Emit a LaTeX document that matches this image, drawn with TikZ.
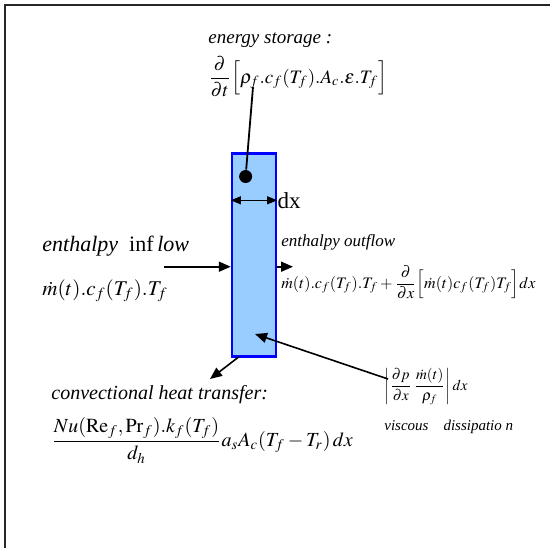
\documentclass[tikz,border=0pt]{standalone}
\usepackage{amsmath}
\usepackage{mathptmx}
\usepackage{fontspec}
\setmainfont{Liberation Serif}
\usetikzlibrary{arrows.meta,positioning}
\definecolor{cellblue}{RGB}{153,204,255}

\begin{document}
\begin{tikzpicture}[x=0.5pt,y=-0.5pt,
cell/.style={
  draw=blue,
  fill=cellblue,
  line width=1.2pt,
  minimum width=22pt,
  minimum height=101.5pt,
  inner sep=0pt},
flow/.style={-{Triangle[length=6pt,width=5pt]},line width=0.8pt},
term/.style={anchor=base west,inner sep=0pt},
mydot/.style={circle,fill=black,inner sep=2.3pt}
]
\useasboundingbox (0,0) rectangle (550,547);
\draw[line width=1pt,black!85] (5,5) rectangle (570,570);
% the control volume
\node[cell] (cv) at (254,255) {};
\node[mydot] (mass) at (245.6,176.5) {};
\draw[{Triangle[length=5pt,width=4pt]}-{Triangle[length=5pt,width=4pt]},line width=0.5pt]
  ([yshift=-24pt]cv.north west) -- ([yshift=-24pt]cv.north east)
  node[right=0pt,inner sep=0pt,font=\fontsize{11.5}{12}\selectfont] (dxLbl) {dx};
% energy storage
\node[term,font=\itshape\fontsize{9.5}{12}\selectfont] (storeLbl) at (208,43) {energy storage :};
\node[term,font=\fontsize{9.5}{12}\selectfont] (storeEq) at (208,83)
  {$\displaystyle\frac{\partial}{\partial t}\Big[\rho_f.c_f(T_f).A_c.\varepsilon.T_f\Big]$};
\coordinate (storeTip) at (253,87);
\draw[line width=0.9pt] (mass) -- (storeTip);
% enthalpy inflow
\node[term,font=\fontsize{11}{13}\selectfont] (inLbl) at (42,251) {\textit{enthalpy}\ \ inf\,\textit{low}};
\node[term,font=\fontsize{10.5}{13}\selectfont] (inEq) at (42,295) {$\dot m(t).c_f(T_f).T_f$};
\coordinate (inTail) at (164,266.7);
\draw[flow] (inTail) -- (inTail -| cv.west);
% enthalpy outflow
\node[term,font=\itshape\fontsize{8.5}{10}\selectfont] (outLbl) at (281,246) {enthalpy outflow};
\node[term,font=\fontsize{8}{10}\selectfont] (outEq) at (281,288)
  {$\dot m(t).c_f(T_f).T_f+\dfrac{\partial}{\partial x}\Big[\dot m(t)c_f(T_f)T_f\Big]dx$};
\coordinate (outTip) at (293,266.7);
\draw[flow] (outTip -| cv.east) -- (outTip);
% convective heat transfer
\node[term,font=\itshape\fontsize{10}{13}\selectfont] (convLbl) at (51,399) {convectional heat transfer:};
\node[term,font=\fontsize{10}{13}\selectfont] (convEq) at (51,446)
  {$\dfrac{Nu(\mathrm{Re}_f,\mathrm{Pr}_f).k_f(T_f)}{d_h}a_sA_c(T_f-T_r)\,dx$};
\coordinate (convFoot) at (238.6,357);
\coordinate (convTip) at (210,379);
\draw[flow] (convFoot) -- (convTip);
% viscous dissipation
\node[term,font=\fontsize{7.5}{8}\selectfont] (viscEq) at (384,390)
  {$\left|\dfrac{\partial p}{\partial x}\,\dfrac{\dot m(t)}{\rho_f}\right|dx$};
\node[term,font=\itshape\fontsize{7.5}{8}\selectfont] (viscLbl) at (384,430) {viscous\quad dissipatio n};
\coordinate (viscTail) at (388,379);
\coordinate (viscTip) at (255,334);
\draw[flow] (viscTail) -- (viscTip);
\end{tikzpicture}
\end{document}
